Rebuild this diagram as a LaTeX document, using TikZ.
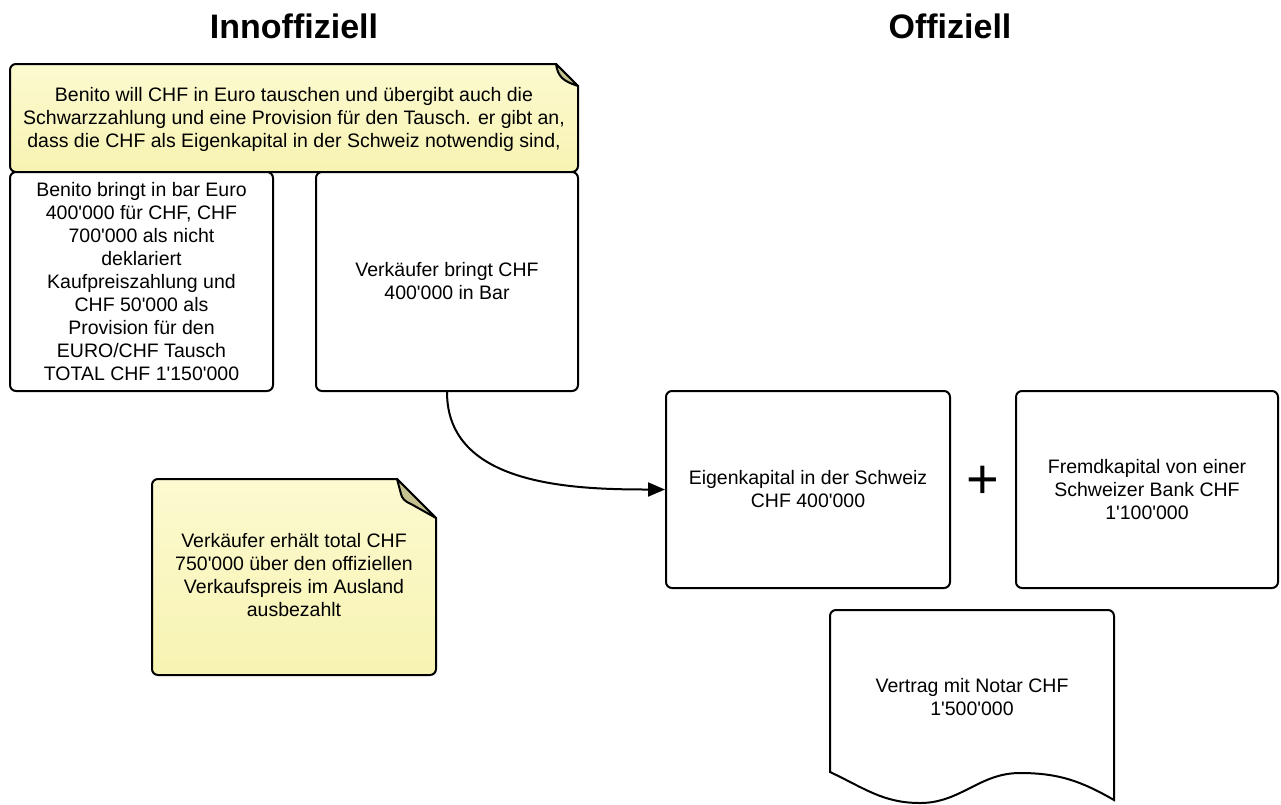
\documentclass[tikz,border=0pt]{standalone}
\usepackage{fontspec}
\newfontfamily\lib{Liberation Sans}
\usetikzlibrary{arrows.meta}
\definecolor{notelight}{HTML}{FCFAD0}
\definecolor{notedark}{HTML}{F7F3B2}
\definecolor{foldc}{HTML}{C3C18E}
\begin{document}
\begin{tikzpicture}[x=1pt,y=-1pt,
  txt/.style={font=\lib\fontsize{19.5}{23}\selectfont, align=center, inner sep=0pt},
  title/.style={font=\lib\bfseries\fontsize{34}{38}\selectfont, inner sep=0pt},
  box/.style={draw=black, line width=2pt, rounded corners=6pt, fill=white, inner sep=0pt,
    font=\lib\fontsize{19.5}{23}\selectfont, align=center},
  note/.style={draw=black, line width=2pt, top color=notelight, bottom color=notedark},
  fold/.style={draw=black, line width=2pt, fill=foldc, line join=round},
  conn/.style={draw=black, line width=2pt, -{Triangle[length=17pt,width=14pt]}}
]
\useasboundingbox (0,0) rectangle (1281,804);
\fill[white] (0,0) rectangle (1281,804);

% titles
\node[title] (t1) at (294,26) {Innoffiziell};
\node[title] (t2) at (950,26) {Offiziell};

% top note
\path[note] (300,64) [sharp corners] -- (556,64) -- (578,86) [rounded corners=6pt] -- (578,172) -- (10,172) -- (10,64) -- (300,64);
\draw[fold] (556,64) -- (578,86) .. controls (563,81) and (558,77) .. (556,64) -- cycle;
\node[txt] (n1) at (294,119) {Benito will CHF in Euro tauschen und übergibt auch die\\Schwarzzahlung und eine Provision für den Tausch. er gibt an,\\dass die CHF als Eigenkapital in der Schweiz notwendig sind,};

% boxes
\node[box, minimum width=263pt, minimum height=219pt] (bb) at (141.5,281.5) {Benito bringt in bar Euro\\400'000 für CHF, CHF\\700'000 als nicht\\deklariert\\Kaufpreiszahlung und\\CHF 50'000 als\\Provision für den\\EURO/CHF Tausch\\TOTAL CHF 1'150'000};
\node[box, minimum width=262pt, minimum height=219pt] (vk) at (447,281.5) {Verkäufer bringt CHF\\400'000 in Bar};
\node[box, minimum width=284pt, minimum height=197pt] (ek) at (808,489.5) {Eigenkapital in der Schweiz\\CHF 400'000};
\node[box, minimum width=262pt, minimum height=197pt] (fk) at (1147,489.5) {Fremdkapital von einer\\Schweizer Bank CHF\\1'100'000};
\node[font=\lib\fontsize{56}{56}\selectfont, inner sep=0pt] (plus) at (983,482) {+};

% connector
\draw[conn] (vk.south) to[out=-90,in=180] (ek.west);

% bottom note
\path[note] (300,479) [sharp corners] -- (397,479) -- (436,518) [rounded corners=6pt] -- (436,675) -- (152,675) -- (152,479) -- (300,479);
\draw[fold] (397,479) -- (436,518) -- (411,504) .. controls (404,501) and (402,498) .. (401,494) -- cycle;
\node[txt] (n2) at (294,575) {Verkäufer erhält total CHF\\750'000 über den offiziellen\\Verkaufspreis im Ausland\\ausbezahlt};

% document
\draw[line width=2pt, fill=white] (830,772) [rounded corners=6pt] -- (830,610) -- (1114,610) [sharp corners] -- (1114,800)
  to[out=150,in=0] (1020,773) to[out=180,in=0] (920,803) to[out=180,in=-25] (830,772) -- cycle;
\node[txt] (doc) at (972,697) {Vertrag mit Notar CHF\\1'500'000};
\end{tikzpicture}
\end{document}
